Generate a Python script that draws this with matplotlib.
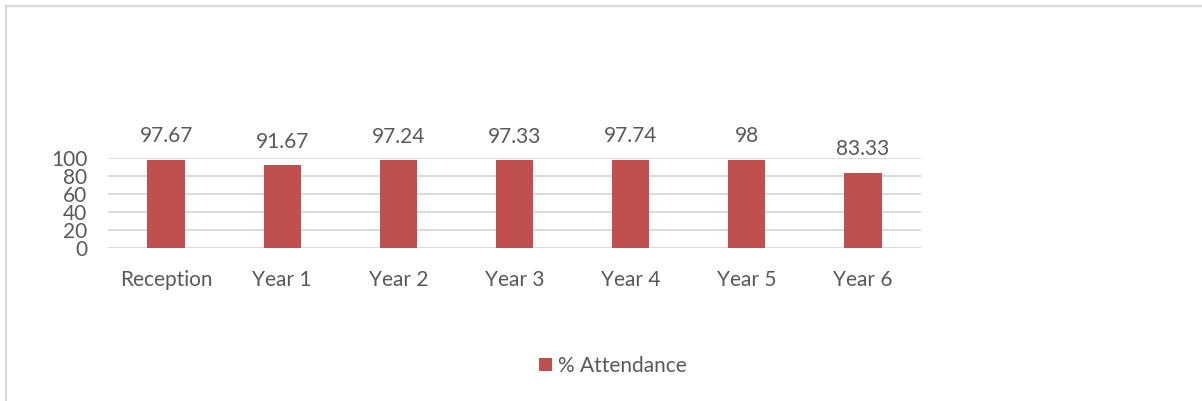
import matplotlib
matplotlib.use("Agg")
import matplotlib.pyplot as plt
from matplotlib.patches import Rectangle

categories = ["Reception", "Year 1", "Year 2", "Year 3", "Year 4", "Year 5", "Year 6"]
attendance = [97.67, 91.67, 97.24, 97.33, 97.74, 98, 83.33]
value_labels = ["97.67", "91.67", "97.24", "97.33", "97.74", "98", "83.33"]
y_ticks = [0, 20, 40, 60, 80, 100]
series_name = "% Attendance"

BAR = "#c0504d"
TXT = "#595959"
GRID = "#d9d9d9"
W, H = 1202, 401
FS = 15

plt.rcParams["font.family"] = ["Lato", "DejaVu Sans"]

fig = plt.figure(figsize=(W / 100, H / 100), dpi=100)

# chart border (only top and left edges visible in the crop)
fig.patches.append(Rectangle((5.5 / W, -0.1), 1.2, (H - 6) / H + 0.1,
                             transform=fig.transFigure, fill=False,
                             edgecolor=GRID, linewidth=1.6))

ax = fig.add_axes([108 / W, 1 - 248 / H, (921 - 108) / W, 90 / H])
x = range(len(categories))
bars = ax.bar(x, attendance, width=0.32, color=BAR, zorder=3, label=series_name)

ax.set_xlim(-0.5, len(categories) - 0.5)
ax.set_ylim(0, 100)
ax.set_yticks(y_ticks)
ax.set_xticks(list(x))
ax.set_xticklabels(categories)
ax.tick_params(axis="both", length=0, labelsize=FS, colors=TXT)
ax.tick_params(axis="x", pad=16)
ax.tick_params(axis="y", pad=15)
for s in ax.spines.values():
    s.set_visible(False)
ax.yaxis.grid(True, color=GRID, linewidth=1.3, zorder=0)

for b, lab in zip(bars, value_labels):
    ax.annotate(lab, (b.get_x() + b.get_width() / 2, b.get_height()),
                xytext=(0, 17), textcoords="offset points",
                ha="center", va="center", fontsize=FS, color=TXT,
                annotation_clip=False)

fig.legend(handles=[bars], labels=[series_name], loc="center",
           bbox_to_anchor=(613 / W, 1 - 366 / H), frameon=False,
           fontsize=FS, labelcolor=TXT, handlelength=0.6, handleheight=0.6,
           handletextpad=0.3)

fig.savefig("out.png", dpi=100, facecolor="white")
